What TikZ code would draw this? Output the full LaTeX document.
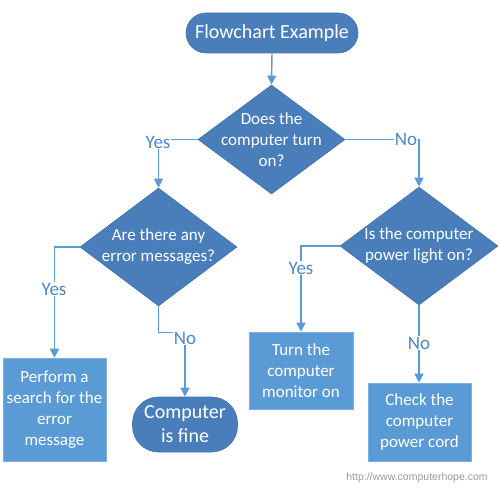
\documentclass[tikz,border=0pt]{standalone}
\usepackage{fontspec}
\setmainfont{Carlito}
\newfontfamily\wmfont{Liberation Sans}
\usetikzlibrary{shapes.geometric,arrows.meta}
\definecolor{darkblue}{HTML}{4A7EBB}
\definecolor{lightblue}{HTML}{5B9BD5}
\definecolor{linkblue}{HTML}{5B9BD5}
\definecolor{labblue}{HTML}{4F86C6}
\tikzset{
  term/.style={draw=darkblue!90!black, line width=0.6pt, fill=darkblue, text=white, rounded corners=#1, inner sep=0pt, align=center},
  dia/.style={diamond, draw=darkblue!90!black, line width=0.6pt, fill=darkblue, inner sep=0pt, aspect=1.35},
  dtext/.style={text=white, align=center, font=\fontsize{17}{21}\selectfont},
  box/.style={rectangle, draw=lightblue!80!white, line width=0.6pt, fill=lightblue, text=white, inner sep=0pt, align=center, font=\fontsize{17}{21}\selectfont},
  conn/.style={draw=linkblue, line width=1.4pt, -{Triangle[length=9pt,width=9pt]}},
  lab/.style={fill=white, text=labblue, inner sep=1pt, font=\fontsize{19}{21}\selectfont}
}
\begin{document}
\begin{tikzpicture}[x=1pt,y=-1pt]
\useasboundingbox (0,0) rectangle (500,492);
% nodes
\node[term=20pt, minimum width=172pt, minimum height=40pt, font=\fontsize{20}{24}\selectfont] (t1) at (272,33) {Flowchart Example};
\node[dia, minimum width=147pt, minimum height=109pt] (d1) at (271.5,139.5) {};
\node[dtext] (d1t) at (d1) {Does the\\computer turn\\on?};
\node[dia, minimum width=157pt, minimum height=118pt] (d2) at (158.5,247) {};
\node[dtext] (d2t) at (d2) {Are there any\\error messages?};
\node[dia, minimum width=158pt, minimum height=118pt] (d3) at (419,246) {};
\node[dtext] (d3t) at (d3) {Is the computer\\power light on?};
\node[box, minimum width=103pt, minimum height=103pt] (p) at (54.5,409.5) {Perform a\\search for the\\error\\message};
\node[term=26pt, minimum width=105pt, minimum height=55pt, font=\fontsize{20}{24}\selectfont] (cf) at (185,424.5) {Computer\\is fine};
\node[box, minimum width=104pt, minimum height=77pt] (tm) at (301,370.5) {Turn the\\computer\\monitor on};
\node[box, minimum width=103pt, minimum height=78pt] (ck) at (419.5,422) {Check the\\computer\\power cord};
% connectors
\draw[conn] (t1.south) -- (d1.north);
\draw[conn] (d1.west) -| (d2.north);
\draw[conn] (d1.east) -| (d3.north);
\draw[conn] (d2.west) -| (p.north);
\draw[conn] (d2.south) -- ++(0,26) coordinate (c2) -| (cf.north);
\draw[conn] (d3.west) -| (tm.north);
\draw[conn] (d3.south) -- (d3.south |- ck.north);
% labels
\node[lab] (l1) at (158,142) {Yes};
\node[lab] (l2) at (406,139) {No};
\node[lab] (l3) at (54,289) {Yes};
\node[lab] (l4) at (185,338) {No};
\node[lab] (l5) at (301,268) {Yes};
\node[lab] (l6) at (419,343) {No};
% watermark
\node[text=black!40, font=\wmfont\fontsize{10.5}{12}\selectfont] (wm) at (417,478) {http://www.computerhope.com};
\end{tikzpicture}
\end{document}
